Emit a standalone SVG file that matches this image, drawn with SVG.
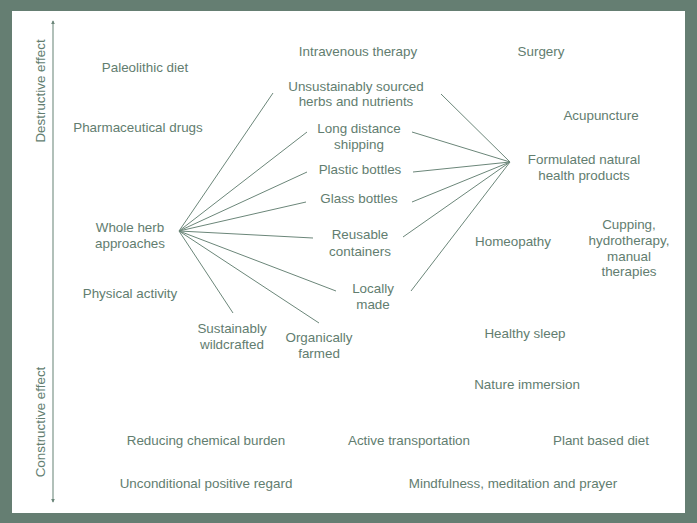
<svg xmlns="http://www.w3.org/2000/svg" width="697" height="523" viewBox="0 0 697 523">
<defs>
<style>
text{font-family:"Liberation Sans",Arial,sans-serif;font-size:13.4px;fill:#627d6f;text-anchor:middle}
.ln{stroke:#6b8679;stroke-width:1;fill:none}
.ax{stroke:#7d968a;stroke-width:1.2;fill:none}
</style>
<marker id="ah" viewBox="0 0 6 6" refX="5" refY="3" markerWidth="4" markerHeight="4" orient="auto-start-reverse" markerUnits="userSpaceOnUse">
<path d="M0,0 L6,3 L0,6 z" fill="#6b8679"/>
</marker>
</defs>
<rect x="0" y="0" width="697" height="523" fill="#657e72"/>
<rect x="12" y="11" width="673" height="502" fill="#ffffff"/>
<g id="axis">
<line class="ax" x1="53" y1="21" x2="53" y2="502" marker-start="url(#ah)" marker-end="url(#ah)"/>
<text transform="translate(45,91) rotate(-90)">Destructive effect</text>
<text transform="translate(45,422) rotate(-90)">Constructive effect</text>
</g>
<g id="connectors">
<line class="ln" x1="179" y1="231" x2="273" y2="93"/>
<line class="ln" x1="179" y1="231" x2="307" y2="132"/>
<line class="ln" x1="179" y1="231" x2="307" y2="172"/>
<line class="ln" x1="179" y1="231" x2="306" y2="202"/>
<line class="ln" x1="179" y1="231" x2="313" y2="238"/>
<line class="ln" x1="179" y1="231" x2="336" y2="291"/>
<line class="ln" x1="179" y1="231" x2="319" y2="323"/>
<line class="ln" x1="179" y1="231" x2="233" y2="313"/>
<line class="ln" x1="510" y1="162" x2="441" y2="94"/>
<line class="ln" x1="510" y1="162" x2="412" y2="132"/>
<line class="ln" x1="510" y1="162" x2="413" y2="172"/>
<line class="ln" x1="510" y1="162" x2="412" y2="202"/>
<line class="ln" x1="510" y1="162" x2="403" y2="237"/>
<line class="ln" x1="510" y1="162" x2="411" y2="291"/>
</g>
<g id="paleolithic"><text x="145" y="72">Paleolithic diet</text></g>
<g id="pharma"><text x="138" y="132">Pharmaceutical drugs</text></g>
<g id="intravenous"><text x="358" y="56">Intravenous therapy</text></g>
<g id="surgery"><text x="541" y="56">Surgery</text></g>
<g id="unsustainable"><text x="356" y="91">Unsustainably sourced</text><text x="356" y="106">herbs and nutrients</text></g>
<g id="acupuncture"><text x="601" y="120">Acupuncture</text></g>
<g id="formulated"><text x="584" y="164">Formulated natural</text><text x="584" y="180">health products</text></g>
<g id="longdistance"><text x="359" y="133">Long distance</text><text x="359" y="149">shipping</text></g>
<g id="plastic"><text x="360" y="174">Plastic bottles</text></g>
<g id="glass"><text x="359" y="203">Glass bottles</text></g>
<g id="reusable"><text x="360" y="239">Reusable</text><text x="360" y="256">containers</text></g>
<g id="homeopathy"><text x="513" y="246">Homeopathy</text></g>
<g id="cupping"><text x="629" y="229">Cupping,</text><text x="629" y="245">hydrotherapy,</text><text x="629" y="261">manual</text><text x="629" y="276">therapies</text></g>
<g id="wholeherb"><text x="130" y="232">Whole herb</text><text x="130" y="248">approaches</text></g>
<g id="locally"><text x="373" y="293">Locally</text><text x="373" y="309">made</text></g>
<g id="physical"><text x="130" y="298">Physical activity</text></g>
<g id="wildcrafted"><text x="232" y="333">Sustainably</text><text x="232" y="349">wildcrafted</text></g>
<g id="organic"><text x="319" y="342">Organically</text><text x="319" y="358">farmed</text></g>
<g id="sleep"><text x="525" y="338">Healthy sleep</text></g>
<g id="nature"><text x="527" y="389">Nature immersion</text></g>
<g id="chemical"><text x="206" y="445">Reducing chemical burden</text></g>
<g id="transport"><text x="409" y="445">Active transportation</text></g>
<g id="plant"><text x="601" y="445">Plant based diet</text></g>
<g id="regard"><text x="206" y="488">Unconditional positive regard</text></g>
<g id="mindfulness"><text x="513" y="488">Mindfulness, meditation and prayer</text></g>
</svg>
